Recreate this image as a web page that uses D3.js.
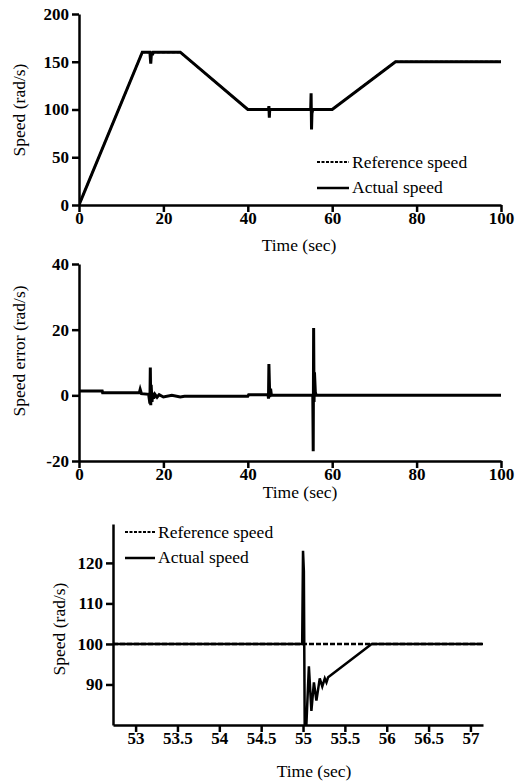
<!DOCTYPE html>
<head>
	<meta charset="utf-8">
	<script src="https://d3js.org/d3.v7.min.js"></script>
	<style>
		body { margin: 0; background: #fff; }
		.axis path, .axis line { stroke: #000; stroke-width: 2.5px; }
	</style>
</head>
<body>
	<script>
		// panel 1: speed over the full run
		var refTime = [0, 15, 24, 40, 60, 75, 100];
		var refSpeed = [0, 160, 160, 100, 100, 150, 150];
		var actTime = [0, 15, 16.8, 17, 17.2, 17.4, 17.6, 24, 40, 44.9, 45, 45.1, 45.2, 54.9, 55, 55.1, 55.2, 55.4, 60, 75, 100];
		var actSpeed = [0, 160, 160, 148, 161, 157, 160, 160, 100, 100, 103.5, 91.5, 100, 100, 117, 79, 96, 100, 100, 150, 150];

		// panel 2: speed error
		var errTime = [0, 5.5, 5.6, 14.3, 14.5, 14.8, 16.5, 16.8, 16.9, 17, 17.1, 17.3, 17.5, 17.7, 18, 18.5, 19, 20, 22, 24, 25, 40, 40.2, 44.8, 44.9, 45, 45.2, 45.4, 45.6, 55.4, 55.5, 55.6, 55.7, 55.8, 56, 56.2, 100];
		var errValue = [1.3, 1.3, 0.8, 0.8, 1.8, 0.5, 0.3, -2.5, 8.5, -3, 3.2, -2, 0.8, -1, 0.3, -0.6, 0.2, -0.5, 0, -0.5, -0.3, -0.3, 0.2, 0.2, -1, 9.5, -0.5, 2, 0, 0, -17, 20.5, -2, 7, 1, 0, 0];

		// panel 3: zoom around t = 55 s
		var zRefTime = [52.73, 57.15];
		var zRefSpeed = [100, 100];
		var zActTime = [52.73, 54.99, 55, 55.01, 55.02, 55.04, 55.07, 55.1, 55.13, 55.16, 55.2, 55.23, 55.26, 55.28, 55.3, 55.82, 57.15];
		var zActSpeed = [100, 100, 123, 118, 80, 80, 94.5, 83.5, 90.5, 86, 91.5, 89.5, 91.5, 90.5, 91.8, 100, 100];

		var xTicks1 = [0, 20, 40, 60, 80, 100];
		var yTicks1 = [0, 50, 100, 150, 200];
		var yTicks2 = [-20, 0, 20, 40];
		var xTicks3 = [53, 53.5, 54, 54.5, 55, 55.5, 56, 56.5, 57];
		var yTicks3 = [90, 100, 110, 120];

		var serif = "'Liberation Serif', 'Times New Roman', serif";

		var svg = d3.select("body").append("svg")
			.attr("width", 519)
			.attr("height", 782);

		function zip(xs, ys) { return xs.map(function(x, i) { return [x, ys[i]]; }); }
		// plain hyphen for negatives, as in the figure
		var fmt = function(d) { return String(d); };

		function styleTicks(sel) {
			sel.attr("font-family", null).attr("font-size", null);
			sel.selectAll(".tick text")
				.style("font-family", serif)
				.style("font-size", "17px")
				.style("font-weight", "bold")
				.attr("fill", "#000");
		}

		function label(sel, size) {
			return sel.style("font-family", serif).style("font-size", size + "px").attr("fill", "#000");
		}

		function panel(o) {
			var x = d3.scaleLinear().domain(o.xDomain).range([o.left, o.right]);
			var y = d3.scaleLinear().domain(o.yDomain).range([o.bottom, o.top]);
			var line = d3.line().x(function(d) { return x(d[0]); }).y(function(d) { return y(d[1]); });

			var clipId = "clip" + o.id;
			svg.append("clipPath").attr("id", clipId).append("rect")
				.attr("x", o.left).attr("y", o.top - 10)
				.attr("width", o.right - o.left).attr("height", o.bottom - o.top + 10);

			// reference drawn first, actual on top
			var g = svg.append("g").attr("clip-path", "url(#" + clipId + ")");
			o.series.forEach(function(s) {
				g.append("path")
					.attr("d", line(s.data))
					.attr("fill", "none")
					.attr("stroke", "#000")
					.attr("stroke-width", s.width)
					.attr("stroke-dasharray", s.dash || null);
			});

			var xAxis = d3.axisBottom(x).tickValues(o.xTicks).tickSize(7).tickPadding(0).tickSizeOuter(0)
				.tickFormat(fmt);
			var yAxis = d3.axisLeft(y).tickValues(o.yTicks).tickSize(7).tickPadding(3).tickSizeOuter(0)
				.tickFormat(fmt);

			svg.append("g").attr("class", "axis")
				.attr("transform", "translate(" + [0, o.bottom] + ")")
				.call(xAxis).call(styleTicks);
			svg.append("g").attr("class", "axis")
				.attr("transform", "translate(" + [o.left, 0] + ")")
				.call(yAxis).call(styleTicks);

			svg.append("text").call(label, 17.5)
				.attr("text-anchor", "middle")
				.attr("x", o.xTitle[0]).attr("y", o.xTitle[1])
				.text("Time (sec)");
			svg.append("text").call(label, 17.5)
				.attr("text-anchor", "middle")
				.attr("transform", "translate(" + o.yTitle + ") rotate(-90)")
				.text(o.yLabel);

			if (o.legend) {
				var lg = svg.append("g").attr("transform", "translate(" + o.legend + ")");
				lg.append("line").attr("x1", 0).attr("x2", o.legendLen).attr("y1", 0).attr("y2", 0)
					.attr("stroke", "#000").attr("stroke-width", 2).attr("stroke-dasharray", "3,1.5");
				lg.append("text").call(label, 17.5).attr("x", o.legendLen + 3).attr("y", 6).text("Reference speed");
				lg.append("line").attr("x1", 0).attr("x2", o.legendLen).attr("y1", o.legendGap).attr("y2", o.legendGap)
					.attr("stroke", "#000").attr("stroke-width", 2.5);
				lg.append("text").call(label, 17.5).attr("x", o.legendLen + 3).attr("y", o.legendGap + 5).text("Actual speed");
			}
		}

		panel({
			id: 1, left: 79, right: 501, top: 14, bottom: 205,
			xDomain: [0, 100], yDomain: [0, 200],
			xTicks: xTicks1, yTicks: yTicks1,
			series: [
				{ data: zip(refTime, refSpeed), width: 2, dash: "3,2" },
				{ data: zip(actTime, actSpeed), width: 3 }
			],
			xTitle: [299, 251], yTitle: [25, 110], yLabel: "Speed (rad/s)",
			legend: [317, 162], legendLen: 32, legendGap: 26
		});

		panel({
			id: 2, left: 79, right: 501, top: 264, bottom: 461,
			xDomain: [0, 100], yDomain: [-20, 40],
			xTicks: xTicks1, yTicks: yTicks2,
			series: [
				{ data: zip(errTime, errValue), width: 3 }
			],
			xTitle: [300, 498], yTitle: [25, 351], yLabel: "Speed error (rad/s)"
		});

		panel({
			id: 3, left: 113, right: 483, top: 524, bottom: 725,
			xDomain: [52.73, 57.15], yDomain: [80, 129.6],
			xTicks: xTicks3, yTicks: yTicks3,
			series: [
				{ data: zip(zRefTime, zRefSpeed), width: 2.5, dash: "5,2" },
				{ data: zip(zActTime, zActSpeed), width: 2.5 }
			],
			xTitle: [314, 777], yTitle: [65, 629], yLabel: "Speed (rad/s)",
			legend: [125, 532], legendLen: 30, legendGap: 26
		});
	</script>
</body>
</html>
